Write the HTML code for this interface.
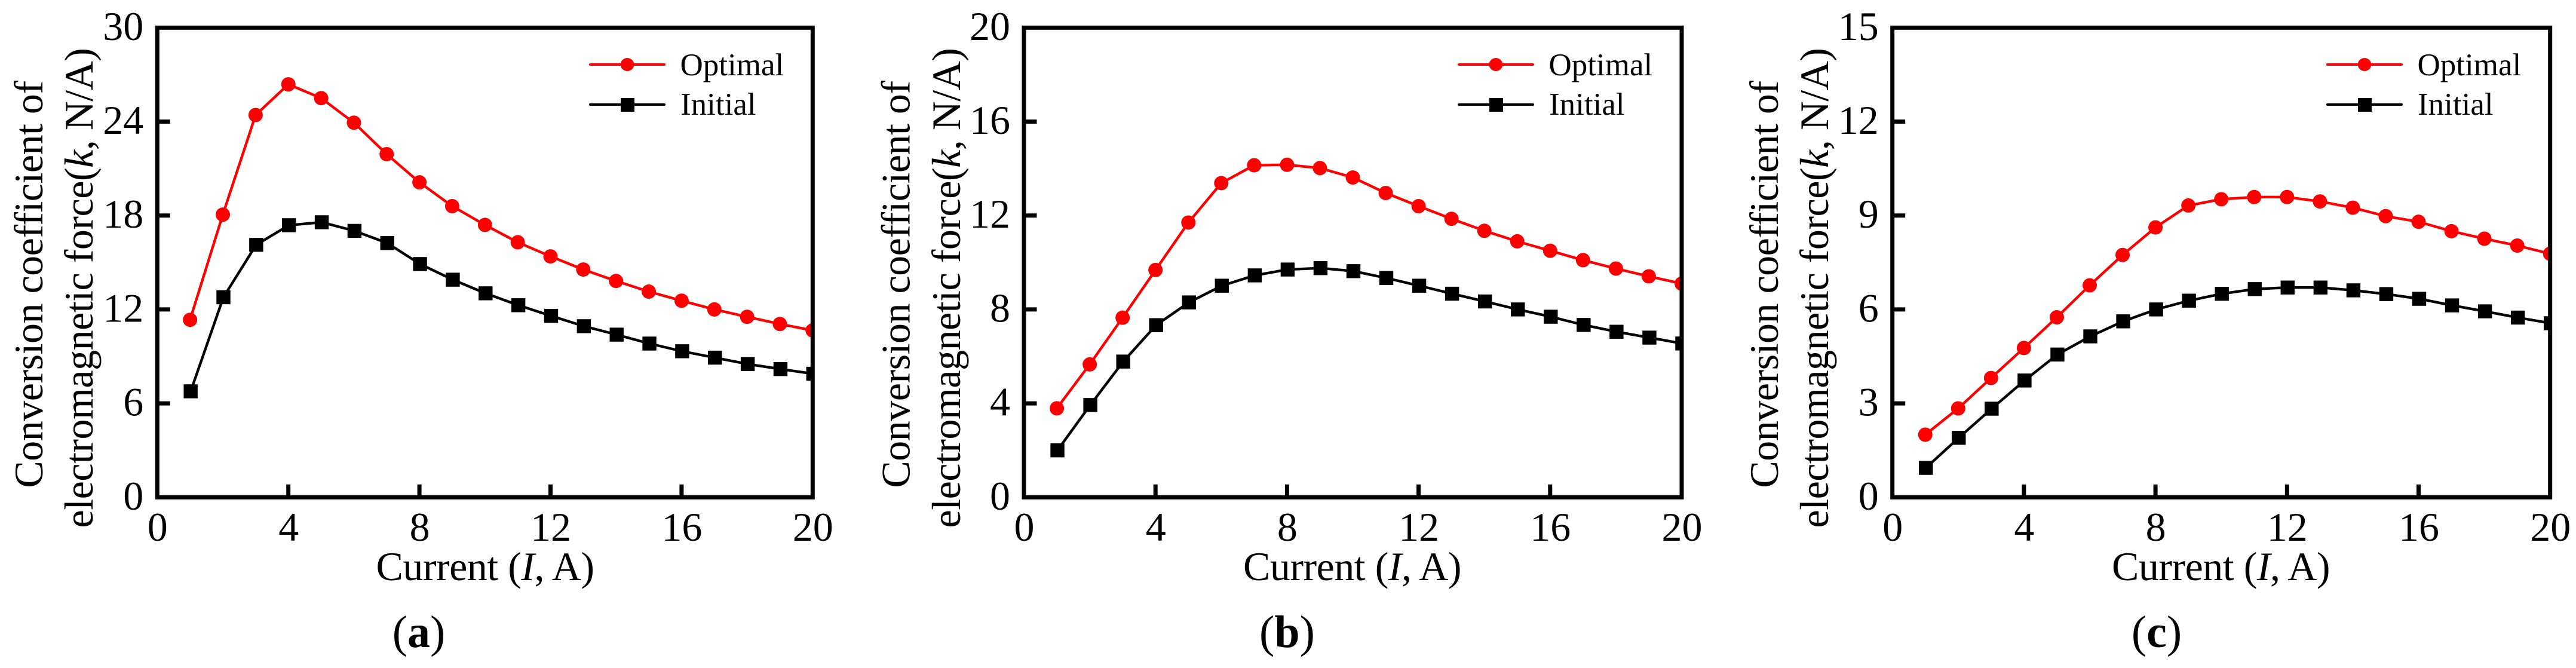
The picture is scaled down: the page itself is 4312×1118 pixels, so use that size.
<!DOCTYPE html>
<html lang="en">
<head>
<meta charset="utf-8">
<title>Conversion coefficient of electromagnetic force vs current</title>
<style>
html,body{margin:0;padding:0;background:#fff;}
body{width:4312px;height:1118px;overflow:hidden;}
svg{display:block;}
text{font-family:"Liberation Serif","Times New Roman",serif;fill:#000;}
.axis-title{font-size:68px;letter-spacing:-0.5px;}
.legend-text{font-size:53px;}
.caption{font-size:76px;text-anchor:middle;}
.tick-label{font-size:68px;}
</style>
</head>
<body>
<svg id="figure" xmlns="http://www.w3.org/2000/svg" width="4312" height="1118" viewBox="0 0 4312 1118">
  <rect x="0" y="0" width="4312" height="1118" fill="#fff"/>

  <g id="panel-a">
    <text class="axis-title" text-anchor="middle" transform="translate(71 476) rotate(-90)">Conversion coefficient of</text>
    <text class="axis-title" text-anchor="middle" transform="translate(155 482) rotate(-90)">electromagnetic force(<tspan font-style="italic">k</tspan>, N/A)</text>
    <text class="axis-title" text-anchor="middle" x="812" y="971">Current (<tspan font-style="italic">I</tspan>, A)</text>
    <text class="caption" x="701" y="1083">(<tspan font-weight="bold">a</tspan>)</text>
  </g>

  <g id="panel-b">
    <text class="axis-title" text-anchor="middle" transform="translate(1522.7 476) rotate(-90)">Conversion coefficient of</text>
    <text class="axis-title" text-anchor="middle" transform="translate(1607 482) rotate(-90)">electromagnetic force(<tspan font-style="italic">k</tspan>, N/A)</text>
    <text class="axis-title" text-anchor="middle" x="2263.5" y="971">Current (<tspan font-style="italic">I</tspan>, A)</text>
    <text class="caption" x="2154.5" y="1083">(<tspan font-weight="bold">b</tspan>)</text>
  </g>

  <g id="panel-c">
    <text class="axis-title" text-anchor="middle" transform="translate(2976 476) rotate(-90)">Conversion coefficient of</text>
    <text class="axis-title" text-anchor="middle" transform="translate(3060 482) rotate(-90)">electromagnetic force(<tspan font-style="italic">k</tspan>, N/A)</text>
    <text class="axis-title" text-anchor="middle" x="3717.5" y="971">Current (<tspan font-style="italic">I</tspan>, A)</text>
    <text class="caption" x="3610" y="1083">(<tspan font-weight="bold">c</tspan>)</text>
  </g>

  <g>
    <g>
      <line x1="988" y1="108" x2="1112" y2="108" stroke="#f00" stroke-width="4" stroke-linecap="round"/>
      <ellipse cx="1050" cy="108" rx="11.3" ry="11" fill="#f00"/>
      <text class="legend-text" x="1138.5" y="126">Optimal</text>
    </g>
    <g>
      <line x1="988" y1="175" x2="1112" y2="175" stroke="#000" stroke-width="4" stroke-linecap="round"/>
      <rect x="1039" y="164" width="23" height="23" fill="#000"/>
      <text class="legend-text" x="1139" y="192">Initial</text>
    </g>
  </g>
  <g>
    <g>
      <line x1="2442" y1="108" x2="2566" y2="108" stroke="#f00" stroke-width="4" stroke-linecap="round"/>
      <ellipse cx="2504" cy="108" rx="11.3" ry="11" fill="#f00"/>
      <text class="legend-text" x="2592.5" y="126">Optimal</text>
    </g>
    <g>
      <line x1="2442" y1="175" x2="2566" y2="175" stroke="#000" stroke-width="4" stroke-linecap="round"/>
      <rect x="2493" y="164" width="23" height="23" fill="#000"/>
      <text class="legend-text" x="2593" y="192">Initial</text>
    </g>
  </g>
  <g>
    <g>
      <line x1="3896" y1="108" x2="4020" y2="108" stroke="#f00" stroke-width="4" stroke-linecap="round"/>
      <ellipse cx="3958" cy="108" rx="11.3" ry="11" fill="#f00"/>
      <text class="legend-text" x="4046.5" y="126">Optimal</text>
    </g>
    <g>
      <line x1="3896" y1="175" x2="4020" y2="175" stroke="#000" stroke-width="4" stroke-linecap="round"/>
      <rect x="3947" y="164" width="23" height="23" fill="#000"/>
      <text class="legend-text" x="4047" y="192">Initial</text>
    </g>
  </g>
</svg>

<script>
const currents = [1,2,3,4,5,6,7,8,9,10,11,12,13,14,15,16,17,18,19,20];
const xTickLabels = [0,4,8,12,16,20];

const optimalA = [11.34,18.06,24.42,26.38,25.5,23.93,21.92,20.12,18.6,17.4,16.29,15.39,14.55,13.82,13.14,12.56,12.0,11.53,11.07,10.66];
const initialA = [6.77,12.78,16.13,17.38,17.57,17.02,16.24,14.9,13.9,13.03,12.27,11.59,10.93,10.39,9.82,9.33,8.92,8.51,8.19,7.89];
const yTickLabelsA = [0,6,12,18,24,30];

const optimalB = [3.79,5.66,7.65,9.68,11.7,13.38,14.14,14.16,14.02,13.62,12.96,12.4,11.86,11.35,10.9,10.5,10.1,9.74,9.41,9.1];
const initialB = [2.0,3.93,5.78,7.33,8.3,9.01,9.45,9.7,9.76,9.63,9.34,9.01,8.67,8.34,8.0,7.69,7.34,7.05,6.8,6.55];
const yTickLabelsB = [0,4,8,12,16,20];

const optimalC = [2.0,2.84,3.81,4.77,5.75,6.77,7.74,8.62,9.32,9.52,9.59,9.59,9.45,9.25,8.98,8.8,8.5,8.26,8.04,7.78];
const initialC = [0.94,1.9,2.83,3.73,4.56,5.14,5.62,6.0,6.28,6.5,6.65,6.7,6.7,6.61,6.49,6.34,6.13,5.94,5.74,5.56];
const yTickLabelsC = [0,3,6,9,12,15];

const NS = 'http://www.w3.org/2000/svg';
const TOP = 46.3;
const BOTTOM = 832.3;
const TICK_LEN = 21.5;
const RED = '#ff0000';
const BLACK = '#000000';

function mk(tag, attrs, parent) {
  const node = document.createElementNS(NS, tag);
  for (const k in attrs) node.setAttribute(k, attrs[k]);
  parent.appendChild(node);
  return node;
}

function drawPanel(id, left, right, optimal, initial, yLabels) {
  const panel = document.getElementById('panel-' + id);
  const xMax = xTickLabels[xTickLabels.length - 1];
  const yMax = yLabels[yLabels.length - 1];
  const xScale = function (v) { return left + (v / xMax) * (right - left); };
  const yScale = function (v) { return BOTTOM - (v / yMax) * (BOTTOM - TOP); };

  const clip = mk('clipPath', { id: 'clip-' + id }, panel);
  mk('rect', { x: left, y: TOP, width: right - left, height: BOTTOM - TOP }, clip);

  const plotArea = mk('g', { 'clip-path': 'url(#clip-' + id + ')' }, panel);
  
  

  const seriesList = [
    { key: 'optimal', values: optimal, color: RED, dx: 0 },
    { key: 'initial', values: initial, color: BLACK, dx: 1 }
  ];
  seriesList.slice().reverse().forEach(function (s) {
    const pts = s.values.map(function (v, i) {
      return (xScale(currents[i]) + s.dx).toFixed(2) + ',' + yScale(v).toFixed(2);
    }).join(' ');
    const line = mk('polyline', { points: pts, fill: 'none', stroke: s.color, 'stroke-width': 4.4, 'stroke-linejoin': 'round' }, plotArea);
    
    
    s.values.forEach(function (v, i) {
      const cx = xScale(currents[i]) + s.dx;
      const cy = yScale(v);
      let mark;
      if (s.key === 'optimal') {
        mark = mk('circle', { cx: cx, cy: cy, r: 12, fill: s.color }, plotArea);
      } else {
        mark = mk('rect', { x: cx - 11.7, y: cy - 11.7, width: 23.4, height: 23.4, fill: s.color }, plotArea);
      }
      
      
    });
  });

  xTickLabels.forEach(function (v) {
    const x = xScale(v);
    if (v > 0 && v < xMax) {
      const tick = mk('line', { x1: x, x2: x, y1: BOTTOM, y2: BOTTOM - TICK_LEN, stroke: BLACK, 'stroke-width': 7 }, panel);
      
      
    }
    const label = mk('text', { x: x + 0.5, y: 905, 'text-anchor': 'middle', class: 'tick-label' }, panel);
    label.textContent = String(v);
    
    
  });

  yLabels.forEach(function (v) {
    const y = yScale(v);
    if (v > 0 && v < yMax) {
      const tick = mk('line', { x1: left, x2: left + TICK_LEN, y1: y, y2: y, stroke: BLACK, 'stroke-width': 7 }, panel);
      
      
    }
    const label = mk('text', { x: left - 23, y: y + 20.5, 'text-anchor': 'end', class: 'tick-label' }, panel);
    label.textContent = String(v);
    
    
  });

  const frame = mk('rect', { x: left, y: TOP, width: right - left, height: BOTTOM - TOP, fill: 'none', stroke: BLACK, 'stroke-width': 7 }, panel);
  
  
}

drawPanel('a', 263.3, 1360.3, optimalA, initialA, yTickLabelsA);
drawPanel('b', 1714, 2815, optimalB, initialB, yTickLabelsB);
drawPanel('c', 3167.7, 4268.7, optimalC, initialC, yTickLabelsC);
</script>
</body>
</html>
